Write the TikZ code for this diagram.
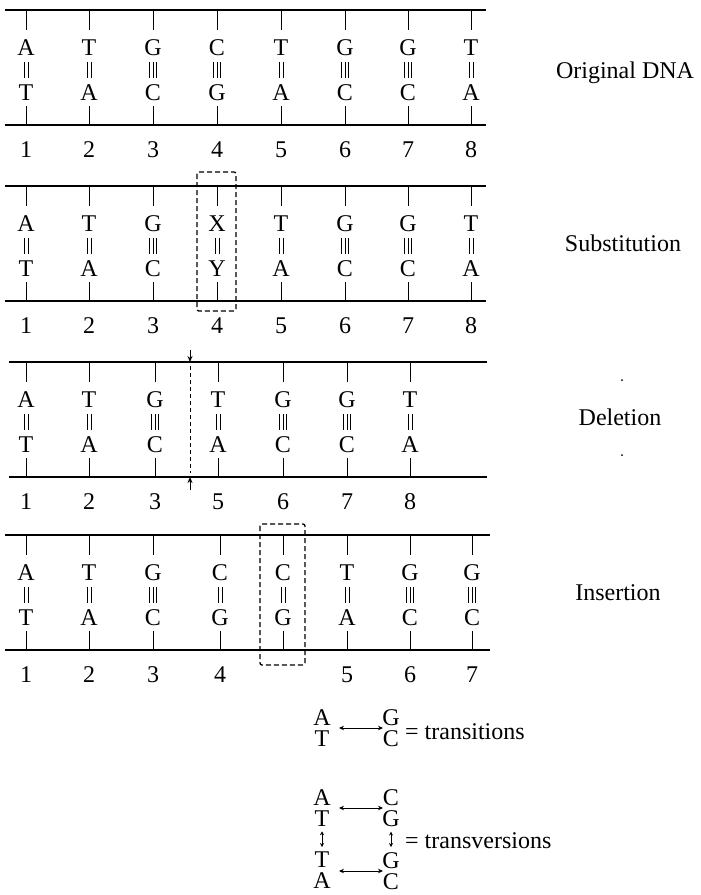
\documentclass[tikz,border=0pt]{standalone}
\usepackage{fontspec}
\setmainfont{Liberation Serif}
\usetikzlibrary{arrows.meta}
\tikzset{
  base/.style={inner sep=0pt, text height=16pt, text depth=0pt, font=\fontsize{24}{28}\selectfont},
  pairtxt/.style={inner sep=0pt, align=center, anchor=north, font=\fontsize{24}{21}\selectfont},
  strand/.style={line width=1.5pt},
  tickline/.style={line width=1pt},
  bond/.style={line width=1pt},
  mutbox/.style={line width=1.3pt, dash pattern=on 5pt off 3pt, rounded corners=2pt},
  tip/.style={line width=1pt},
}
\newcommand\dnapanel[3]{%
  \foreach \i/\x/\t/\b/\k/\num in {#3}{
    \node[base] (#1t\i) at (\x,#2+37) {\t};
    \node[base] (#1b\i) at (\x,#2+82) {\b};
    \node[base] (#1n\i) at (\x,#2+139) {\num};
    \draw[tickline] ([yshift=9pt]#1t\i.north) -- ([yshift=29pt]#1t\i.north);
    \draw[tickline] ([yshift=-6pt]#1b\i.south) -- ([yshift=-25pt]#1b\i.south);
    \ifnum\k=2
      \foreach \d in {-2,2}{\draw[bond] (\x+\d,#2+52) -- (\x+\d,#2+68);}
    \else
      \foreach \d in {-3.5,0,3.5}{\draw[bond] (\x+\d,#2+52) -- (\x+\d,#2+68);}
    \fi
  }%
}
\begin{document}
\begin{tikzpicture}[x=1pt,y=-1pt]
\useasboundingbox (0,0) rectangle (701,895);

% strands
\coordinate (a1) at (5,10);   \coordinate (a2) at (486,10);
\coordinate (a3) at (5,125);  \coordinate (a4) at (486,125);
\coordinate (b1) at (5,186);  \coordinate (b2) at (486,186);
\coordinate (b3) at (5,301);  \coordinate (b4) at (486,301);
\coordinate (c1) at (9,362);  \coordinate (c2) at (487,362);
\coordinate (c3) at (9,477);  \coordinate (c4) at (487,477);
\coordinate (d1) at (5,535);  \coordinate (d2) at (490,535);
\coordinate (d3) at (5,650);  \coordinate (d4) at (490,650);
\draw[strand] (a1) -- (a2); \draw[strand] (a3) -- (a4);
\draw[strand] (b1) -- (b2); \draw[strand] (b3) -- (b4);
\draw[strand] (c1) -- (c2); \draw[strand] (c3) -- (c4);
\draw[strand] (d1) -- (d2); \draw[strand] (d3) -- (d4);

% panels
\dnapanel{o}{10}{1/26/A/T/2/1, 2/89/T/A/2/2, 3/153/G/C/3/3, 4/217/C/G/3/4, 5/281/T/A/2/5, 6/345/G/C/3/6, 7/408/G/C/3/7, 8/471/T/A/2/8}
\dnapanel{s}{186}{1/26/A/T/2/1, 2/89/T/A/2/2, 3/153/G/C/3/3, 4/217/X/Y/2/4, 5/281/T/A/2/5, 6/345/G/C/3/6, 7/408/G/C/3/7, 8/471/T/A/2/8}
\dnapanel{d}{362}{1/26/A/T/2/1, 2/89/T/A/2/2, 3/155/G/C/3/3, 4/218/T/A/2/5, 5/283/G/C/3/6, 6/347/G/C/3/7, 7/410/T/A/2/8}
\dnapanel{i}{535}{1/26/A/T/2/1, 2/89/T/A/2/2, 3/153/G/C/3/3, 4/220/C/G/2/4, 5/283/C/G/2/{}, 6/347/T/A/2/5, 7/410/G/C/3/6, 8/472/G/C/3/7}

% substitution box
\draw[mutbox] (197,172) rectangle (236,311);
% insertion box
\draw[mutbox] (260,524) rectangle (305,665);

% deletion marker
\coordinate (del1) at (190,350);
\coordinate (del2) at (190,490);
\draw[tip,-{Stealth[length=6pt,width=5pt]}] (del1) -- (c1 -| del1);
\draw[tip,-{Stealth[length=6pt,width=5pt]}] (del2) -- (c3 -| del1);
\draw[line width=1pt, dash pattern=on 4pt off 3pt] ([yshift=-4pt]c1 -| del1) -- ([yshift=4pt]c3 -| del1);

% labels
\node[base] (l1) at (625,70) {Original DNA};
\node[base] (l2) at (623,243) {Substitution};
\node[base] (l3) at (620,417) {Deletion};
\node[base] (l4) at (618,592) {Insertion};
\fill (622,380) circle (1pt);
\fill (622,455) circle (1pt);

% legend: transitions
\node[pairtxt] (tat) at (322,709) {A\\T};
\node[pairtxt] (tgc) at (391,709) {G\\C};
\coordinate (tm1) at (339,728);
\coordinate (tm2) at (383,728);
\draw[tip,{Stealth[length=5pt,width=4.5pt]}-{Stealth[length=5pt,width=4.5pt]}] (tm1) -- (tm2);
\node[base, anchor=west] (teq) at (405,731) {= transitions};

% legend: transversions
\node[pairtxt] (vat) at (322,789) {A\\T};
\node[pairtxt] (vcg) at (391,789) {C\\G};
\node[pairtxt] (vta) at (322,852) {T\\A};
\node[pairtxt] (vgc) at (391,852) {G\\C};
\coordinate (vm1) at (339,808);
\coordinate (vm2) at (383,808);
\coordinate (vm3) at (339,871);
\coordinate (vm4) at (383,871);
\draw[tip,{Stealth[length=5pt,width=4.5pt]}-{Stealth[length=5pt,width=4.5pt]}] (vm1) -- (vm2);
\draw[tip,{Stealth[length=5pt,width=4.5pt]}-{Stealth[length=5pt,width=4.5pt]}] (vm3) -- (vm4);
\draw[tip,{Stealth[length=4pt,width=4pt]}-{Stealth[length=4pt,width=4pt]}] ([yshift=-5pt]vat.south) -- ([yshift=5pt]vta.north);
\draw[tip,{Stealth[length=4pt,width=4pt]}-{Stealth[length=4pt,width=4pt]}] ([yshift=-5pt]vcg.south) -- ([yshift=5pt]vgc.north);
\node[base, anchor=west] (veq) at (405,840) {= transversions};
\end{tikzpicture}
\end{document}
